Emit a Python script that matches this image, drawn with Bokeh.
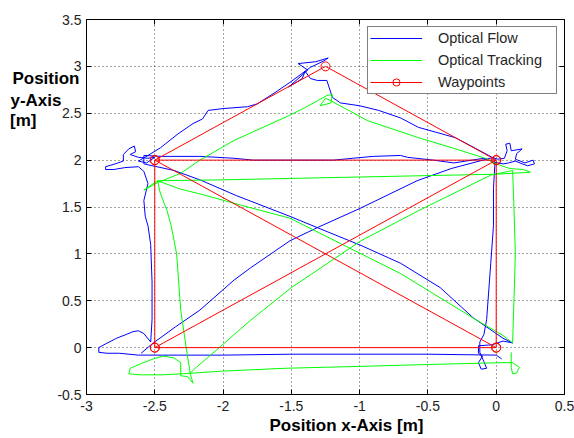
from bokeh.plotting import figure
from bokeh.models import Range1d, FixedTicker, LinearAxis, Legend, LegendItem, Title
from bokeh.embed import file_html
from bokeh.resources import INLINE

# ---------------- data ----------------
x_ticks = [-3, -2.5, -2, -1.5, -1, -0.5, 0, 0.5]
x_tick_labels = ["-3", "-2.5", "-2", "-1.5", "-1", "-0.5", "0", "0.5"]
y_ticks = [-0.5, 0, 0.5, 1, 1.5, 2, 2.5, 3, 3.5]
y_tick_labels = ["-0.5", "0", "0.5", "1", "1.5", "2", "2.5", "3", "3.5"]

# Waypoints (house of Nikolaus)
wp_x = [0, 0, -1.25, -2.5, 0, -2.5, -2.5, 0, -2.5]
wp_y = [0, 2, 3, 2, 2, 0, 2, 0, 0]

# Optical Flow trajectory
flow_x = [0.04, 0.0, -0.5, -1.0, -1.5, -2.0, -2.4, -2.62,
          -2.76, -2.85, -2.91, -2.91, -2.86, -2.78, -2.71, -2.66, -2.62, -2.58, -2.53,
          -2.52, -2.52, -2.53, -2.55, -2.57, -2.58, -2.55, -2.58,
          -2.62, -2.72, -2.80, -2.86, -2.86, -2.79, -2.73, -2.73, -2.69, -2.65, -2.64, -2.68,
          -2.62, -2.55, -2.50, -2.56, -2.62, -2.55,
          -2.46, -2.33, -2.22, -2.15, -2.11, -2.0, -1.82, -1.75, -1.62, -1.51, -1.36, -1.26, -1.23,
          -1.32, -1.45, -1.38, -1.52, -1.42, -1.40, -1.36, -1.31, -1.24, -1.20, -1.14,
          -1.0, -0.86, -0.70, -0.57, -0.30, -0.17, -0.03,
          0.01, 0.06, 0.08, 0.07, 0.10, 0.11, 0.19, 0.15, 0.14, 0.21, 0.27, 0.28, 0.23, 0.19,
          0.14, 0.09, 0.05, -0.02,
          -0.09, -0.31, -0.46, -0.65, -0.70, -0.90, -1.05, -1.19, -1.78, -1.92, -2.17, -2.45, -2.58,
          -2.58, -2.36, -2.17, -1.90, -1.51, -1.31, -0.99, -0.70, -0.41, -0.17, -0.03, 0.05, 0.12,
          0.05, -0.03, -0.13, -0.13, -0.10, -0.13, -0.11, -0.07, -0.09, -0.12, -0.12, -0.09,
          -0.07, -0.06, -0.04, -0.02, -0.02, -0.01,
          -0.02, -0.33, -0.58, -0.99, -1.31, -1.51, -1.80, -1.92, -2.17, -2.35, -2.52, -2.60]
flow_y = [-0.12, -0.08, -0.07, -0.07, -0.07, -0.08, -0.08, -0.08,
          -0.06, -0.06, -0.05, 0.0, 0.04, 0.10, 0.14, 0.17, 0.18, 0.15, 0.06,
          0.3, 0.7, 1.1, 1.3, 1.4, 1.57, 1.75, 1.88,
          1.93, 1.92, 1.90, 1.90, 1.93, 1.96, 1.99, 2.06, 2.12, 2.15, 2.09, 2.06,
          2.03, 2.02, 2.03, 1.97, 1.99, 2.05,
          2.13, 2.28, 2.39, 2.44, 2.53, 2.55, 2.57, 2.60, 2.72, 2.83, 2.99, 3.06, 3.09,
          3.05, 3.03, 2.96, 2.78, 2.87, 2.95, 2.87, 2.85, 2.85, 2.67, 2.61,
          2.58, 2.53, 2.45, 2.35, 2.24, 2.14, 2.03,
          2.01, 2.02, 2.10, 2.17, 2.18, 2.10, 2.12, 2.07, 2.01, 1.97, 2.0, 1.96, 1.94, 1.96,
          1.99, 1.97, 1.96, 1.98,
          2.02, 1.97, 2.0, 2.03, 2.05, 2.04, 2.02, 2.0, 2.0, 2.02, 2.04, 2.04, 2.05,
          1.96, 1.89, 1.79, 1.62, 1.40, 1.28, 1.09, 0.90, 0.64, 0.32, 0.18, 0.10, 0.05,
          0.07, 0.03, 0.02, -0.06, -0.09, -0.16, -0.23, -0.22, -0.15, -0.05, 0.06, 0.14,
          0.30, 0.50, 0.9, 1.3, 1.7, 1.95,
          2.03, 1.91, 1.78, 1.49, 1.28, 1.14, 0.85, 0.72, 0.40, 0.22, 0.04, -0.06]

# Optical Tracking trajectory
track_x = [0.11, 0.11, 0.12, 0.15, 0.17, 0.12, 0.05, -0.5, -1.0, -1.54, -2.0, -2.31,
           -2.45, -2.6, -2.69, -2.68, -2.60, -2.51, -2.44, -2.36, -2.31, -2.31, -2.26,
           -2.22, -2.24, -2.27, -2.31, -2.34, -2.38, -2.41, -2.46, -2.48,
           -2.58, -2.48, -2.31, -2.17, -1.92, -1.51, -1.40, -1.30, -1.24, -1.20, -1.21, -1.29,
           -1.25, -1.22,
           -0.94, -0.57, -0.32, -0.08, 0.0,
           0.1, 0.2, 0.25, 0.12, 0.0,
           -1.0, -2.0, -2.48,
           -2.31, -2.17, -1.87, -1.51, -1.14, -0.70, -0.14, 0.05, 0.12,
           0.13, 0.14, 0.13, 0.12,
           -0.04, -0.57, -0.99, -1.5, -1.80, -2.25]
track_y = [-0.05, -0.21, -0.28, -0.27, -0.21, -0.16, -0.16, -0.18, -0.20, -0.22, -0.25, -0.28,
           -0.29, -0.29, -0.28, -0.22, -0.17, -0.12, -0.09, -0.11, -0.16, -0.30, -0.31,
           -0.38, -0.28, 0.0, 0.4, 1.0, 1.3, 1.46, 1.65, 1.78,
           1.68, 1.76, 1.86, 2.0, 2.21, 2.48, 2.56, 2.64, 2.69, 2.70, 2.61, 2.58,
           2.66, 2.64,
           2.42, 2.24, 2.13, 2.02, 1.96,
           1.91, 1.90, 1.87, 1.86, 1.85,
           1.82, 1.79, 1.78,
           1.69, 1.64, 1.52, 1.38, 1.11, 0.79, 0.29, 0.13, 0.05,
           0.5, 1.0, 1.5, 1.89,
           1.84, 1.46, 1.14, 0.64, 0.29, -0.28]

series_names = ["Optical Flow", "Optical Tracking", "Waypoints"]
x_label_text = "Position x-Axis [m]"
y_label_lines = ["Position", "y-Axis", "[m]"]
y_label_line_pos = [2.871, 2.633, 2.42]   # vertical placement of each label line (y units)

# ---------------- figure ----------------
FONT = "Liberation Sans"
p = figure(width=574, height=438, x_range=Range1d(-3, 0.5), y_range=Range1d(-0.5, 3.5),
           output_backend="svg", toolbar_location=None,
           min_border_left=86, min_border_right=10, min_border_top=19, min_border_bottom=44)
p.background_fill_color = "white"
p.border_fill_color = "white"
p.outline_line_color = "black"
p.outline_line_width = 1
p.outline_line_alpha = 1

xax = p.xaxis[0]
yax = p.yaxis[0]
xax.ticker = FixedTicker(ticks=x_ticks)
yax.ticker = FixedTicker(ticks=y_ticks)
xax.major_label_overrides = dict(zip(x_ticks, x_tick_labels))
yax.major_label_overrides = dict(zip(y_ticks, y_tick_labels))
for ax in (xax, yax):
    ax.major_tick_in = 5
    ax.major_tick_out = 0
    ax.minor_tick_line_color = None
    ax.axis_line_color = "black"
    ax.major_tick_line_color = "black"
    ax.major_label_text_font = FONT
    ax.major_label_text_font_size = "14px"
    ax.major_label_text_color = "#222222"
xax.major_label_standoff = 6
yax.major_label_standoff = 5

for loc, ticks in (("right", y_ticks), ("above", x_ticks)):
    ax = LinearAxis(ticker=FixedTicker(ticks=ticks), major_tick_in=5, major_tick_out=0,
                    minor_tick_line_color=None, major_label_text_font_size="0px",
                    major_label_standoff=0, axis_line_color="black",
                    major_label_overrides={t: "" for t in ticks})
    p.add_layout(ax, loc)

# horizontal, three-line y-axis title: one label-only axis per line (stacked outwards)
for txt, ypos, standoff in zip(y_label_lines, y_label_line_pos, (-25, -52, -29)):
    lab_ax = LinearAxis(ticker=FixedTicker(ticks=[ypos]),
                        major_label_overrides={ypos: txt},
                        major_label_standoff=standoff,
                        major_tick_in=0, major_tick_out=0,
                        major_tick_line_color=None, minor_tick_line_color=None,
                        axis_line_color=None,
                        major_label_text_font=FONT, major_label_text_font_style="bold",
                        major_label_text_font_size="17px", major_label_text_color="black")
    p.add_layout(lab_ax, "left")

for g in (p.xgrid[0], p.ygrid[0]):
    g.grid_line_color = "#333333"
    g.grid_line_dash = "1 3"
    g.grid_line_width = 1
    g.grid_line_alpha = 0.9

r_flow = p.line(flow_x, flow_y, line_color="#0000ff", line_width=1)
r_track = p.line(track_x, track_y, line_color="#00ff00", line_width=1)
r_wp_line = p.line(wp_x, wp_y, line_color="#ff0000", line_width=1)
r_wp_pts = p.scatter(wp_x, wp_y, marker="circle", size=9, fill_color=None,
                     line_color="#ff0000", line_width=1)

legend = Legend(items=[
    LegendItem(label=series_names[0], renderers=[r_flow]),
    LegendItem(label=series_names[1], renderers=[r_track]),
    LegendItem(label=series_names[2], renderers=[r_wp_line, r_wp_pts]),
], location="top_right")
legend.margin = 7
legend.padding = 2
legend.spacing = 4
legend.glyph_width = 52
legend.glyph_height = 18
legend.label_height = 18
legend.label_width = 116
legend.label_standoff = 16
legend.border_line_color = "black"
legend.border_line_width = 1
legend.background_fill_color = "white"
legend.background_fill_alpha = 1
legend.label_text_font = FONT
legend.label_text_font_size = "14.5px"
legend.label_text_color = "#262626"
p.add_layout(legend)

# x-axis title below the tick labels, shifted right as in the reference
xtitle = Title(text=x_label_text, align="left", offset=183, standoff=0,
               text_font=FONT, text_font_style="bold", text_font_size="17px",
               text_color="black")
p.add_layout(xtitle, "below")

open("out.html", "w").write(file_html(p, INLINE))
